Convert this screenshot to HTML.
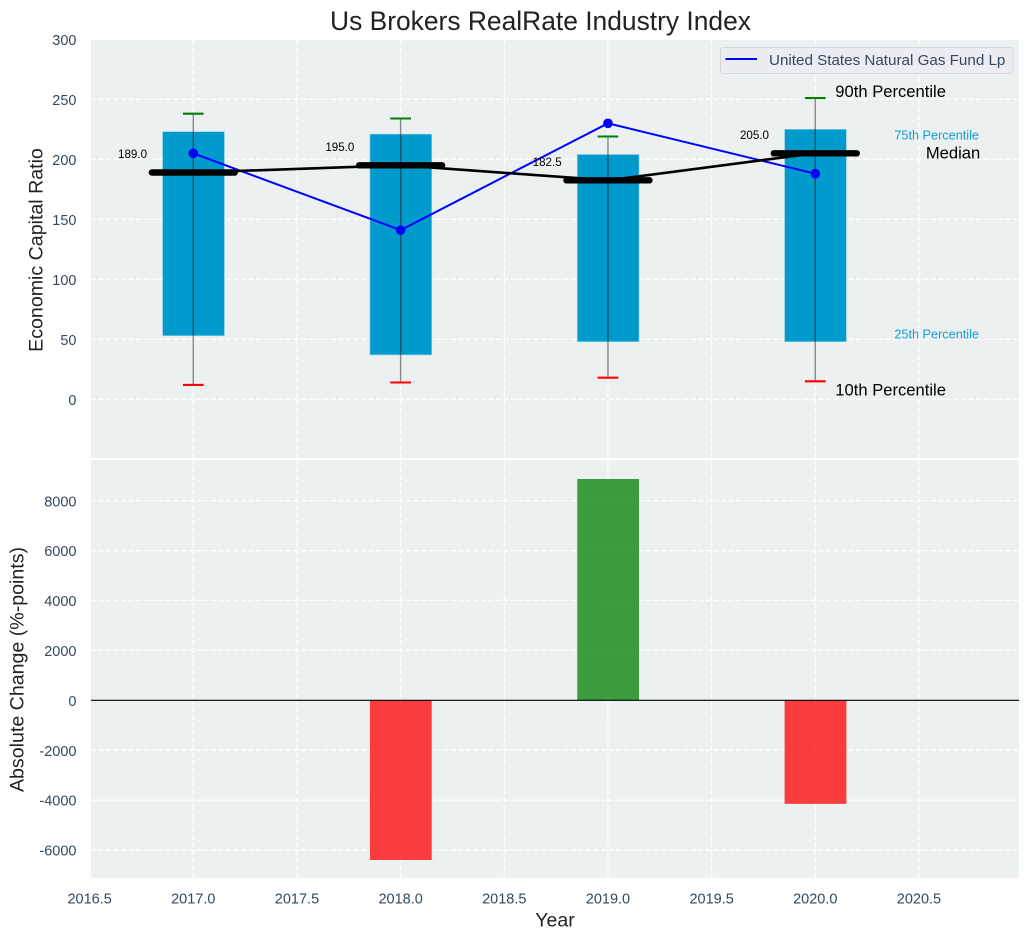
<!DOCTYPE html>
<html>
<head>
<meta charset="utf-8">
<title>Us Brokers RealRate Industry Index</title>
<style>
html,body{margin:0;padding:0;background:#fff;}
svg{display:block;font-family:"Liberation Sans",Arial,sans-serif;}
</style>
</head>
<body>
<svg id="chart" xmlns="http://www.w3.org/2000/svg" width="1029" height="940" viewBox="0 0 1029 940">
  <rect x="0" y="0" width="1029" height="940" fill="#ffffff"/>
  <rect x="91" y="40" width="928" height="418" fill="#ecf0f1"/>
  <rect x="91" y="460" width="928" height="417.7" fill="#ecf0f1"/>
  <g id="grid"></g>
  <g id="marks"></g>
  <g id="labels"></g>
  <text x="540.5" y="30" text-anchor="middle" font-size="26.4" fill="#222222">Us Brokers RealRate Industry Index</text>
  <text x="555" y="926.7" text-anchor="middle" font-size="19.5" fill="#222222">Year</text>
  <text transform="translate(42.5,250) rotate(-90)" text-anchor="middle" font-size="19.6" fill="#222222">Economic Capital Ratio</text>
  <text transform="translate(23.5,669.5) rotate(-90)" text-anchor="middle" font-size="19.6" fill="#222222">Absolute Change (%-points)</text>
  <g>
    <rect x="720.5" y="47.5" width="292.5" height="26" rx="3" ry="3" fill="#ecedf2" stroke="#d4d7da" stroke-width="1"/>
    <line x1="725.5" y1="59" x2="757" y2="59" stroke="#0000ff" stroke-width="2"/>
    <text x="769" y="65" font-size="15.2" fill="#34495e">United States Natural Gas Fund Lp</text>
  </g>
</svg>
<script>
var years = [2017, 2018, 2019, 2020];
var p10 = [12, 14, 18, 15];
var p25 = [53, 37, 48, 48];
var median = [189, 195, 182.5, 205];
var p75 = [223, 221, 204, 225];
var p90 = [238, 234, 219, 251];
var fund = [205, 141, 230, 188];
var change = [0, -6400, 8870, -4150];
var xTickLabels = ["2016.5", "2017.0", "2017.5", "2018.0", "2018.5", "2019.0", "2019.5", "2020.0", "2020.5"];
var topTickLabels = ["0", "50", "100", "150", "200", "250", "300"];
var bottomTickLabels = ["-6000", "-4000", "-2000", "0", "2000", "4000", "6000", "8000"];

var NS = 'http://www.w3.org/2000/svg';
function xScale(v) { return 193.3 + (v - 2017) * 207.33; }
function yTop(v) { return 399.3 - v * 1.2; }
function yBottom(v) { return 700.3 - v * 0.02495; }
function make(tag, attrs, parent, text) {
  var el = document.createElementNS(NS, tag);
  for (var k in attrs) { el.setAttribute(k, attrs[k]); }
  if (text !== undefined) { el.textContent = text; }
  parent.appendChild(el);
  return el;
}
var grid = document.getElementById('grid');
var marks = document.getElementById('marks');
var labels = document.getElementById('labels');
var dashed = { stroke: '#ffffff', 'stroke-width': 1.3, 'stroke-dasharray': '5,2.5', fill: 'none' };
function withDash(o) { for (var k in dashed) { o[k] = dashed[k]; } return o; }

xTickLabels.forEach(function (t) {
  var x = xScale(parseFloat(t));
  if (x >= 91) {
    var g1 = make('line', withDash({ x1: x, x2: x, y1: 40, y2: 458 }), grid);
    
    
    var g2 = make('line', withDash({ x1: x, x2: x, y1: 460, y2: 877.7 }), grid);
    
    
  }
  var lab = make('text', { x: x, y: 903.5, 'text-anchor': 'middle', 'font-size': 14.5, fill: '#34495e' }, labels, t);
  
  
});
topTickLabels.forEach(function (t) {
  var y = yTop(parseFloat(t));
  var g = make('line', withDash({ x1: 91, x2: 1019, y1: y, y2: y }), grid);
  
  
  var lab = make('text', { x: 76.5, y: y + 5.6, 'text-anchor': 'end', 'font-size': 14.5, fill: '#34495e' }, labels, t);
  
  
});
bottomTickLabels.forEach(function (t) {
  var y = yBottom(parseFloat(t));
  var g = make('line', withDash({ x1: 91, x2: 1019, y1: y, y2: y }), grid);
  
  
  var lab = make('text', { x: 76.5, y: y + 5.6, 'text-anchor': 'end', 'font-size': 14.5, fill: '#34495e' }, labels, t);
  
  
});

var halfBar = 0.149;
var halfCap = 0.05;
var halfMedian = 0.2;

years.forEach(function (yr, i) {
  var box = make('rect', { x: xScale(yr - halfBar) + 0.2, y: yTop(p75[i]), width: xScale(yr + halfBar) - xScale(yr - halfBar), height: yTop(p25[i]) - yTop(p75[i]), fill: '#009bcc', stroke: '#8fd0e6', 'stroke-width': 0.6 }, marks);
  
  
});
years.forEach(function (yr, i) {
  var w = make('line', { x1: xScale(yr), x2: xScale(yr), y1: yTop(p90[i]), y2: yTop(p10[i]), stroke: '#000000', 'stroke-opacity': 0.45, 'stroke-width': 1.4 }, marks);
  
  
  var hi = make('line', { x1: xScale(yr - halfCap), x2: xScale(yr + halfCap), y1: yTop(p90[i]), y2: yTop(p90[i]), stroke: '#008000', 'stroke-width': 2.1 }, marks);
  
  
  var lo = make('line', { x1: xScale(yr - halfCap), x2: xScale(yr + halfCap), y1: yTop(p10[i]), y2: yTop(p10[i]), stroke: '#ff0000', 'stroke-width': 2.1 }, marks);
  
  
});

var fundPts = years.map(function (yr, i) { return xScale(yr) + ',' + yTop(fund[i]); }).join(' ');
var fundLine = make('polyline', { points: fundPts, fill: 'none', stroke: '#0000ff', 'stroke-width': 2 }, marks);


years.forEach(function (yr, i) {
  var dot = make('circle', { cx: xScale(yr), cy: yTop(fund[i]), r: 4.8, fill: '#0000ff' }, marks);
  
  
});

var medPts = years.map(function (yr, i) { return xScale(yr) + ',' + yTop(median[i]); }).join(' ');
var medLine = make('polyline', { points: medPts, fill: 'none', stroke: '#000000', 'stroke-width': 2.6 }, marks);


years.forEach(function (yr, i) {
  var m = make('line', { x1: xScale(yr - halfMedian), x2: xScale(yr + halfMedian), y1: yTop(median[i]), y2: yTop(median[i]), stroke: '#000000', 'stroke-width': 6.4, 'stroke-linecap': 'round' }, marks);
  
  
  var ml = make('text', { x: xScale(yr) - 75.3, y: yTop(median[i]) - 14.5, 'font-size': 11.6, fill: '#000000' }, labels, median[i].toFixed(1));
  
  
});

years.forEach(function (yr, i) {
  var v = change[i];
  if (v === 0) { return; }
  var top = yBottom(Math.max(v, 0));
  var bot = yBottom(Math.min(v, 0));
  var b = make('rect', { x: xScale(yr - halfBar) + 0.2, y: top, width: xScale(yr + halfBar) - xScale(yr - halfBar), height: bot - top, fill: v > 0 ? '#008000' : '#ff0000', 'fill-opacity': 0.75 }, marks);
  
  
});
var zero = make('line', { x1: 91, x2: 1019, y1: yBottom(0), y2: yBottom(0), stroke: '#000000', 'stroke-width': 1.1 }, marks);



var last = years.length - 1;
var lastX = xScale(years[last]);
var t90 = make('text', { x: lastX + 20, y: yTop(p90[last]) - 1, 'font-size': 16.6, fill: '#000000' }, labels, '90th Percentile');


var t10 = make('text', { x: lastX + 20, y: yTop(p10[last]) + 14, 'font-size': 16.6, fill: '#000000' }, labels, '10th Percentile');


var t75 = make('text', { x: lastX + 163.7, y: yTop(p75[last]) + 10, 'font-size': 12.7, 'text-anchor': 'end', fill: '#119fcf' }, labels, '75th Percentile');


var t25 = make('text', { x: lastX + 163.7, y: yTop(p25[last]) - 3, 'font-size': 12.7, 'text-anchor': 'end', fill: '#119fcf' }, labels, '25th Percentile');


var tMed = make('text', { x: lastX + 165, y: yTop(median[last]) + 5, 'font-size': 16.6, 'text-anchor': 'end', fill: '#000000' }, labels, 'Median');


</script>
</body>
</html>
